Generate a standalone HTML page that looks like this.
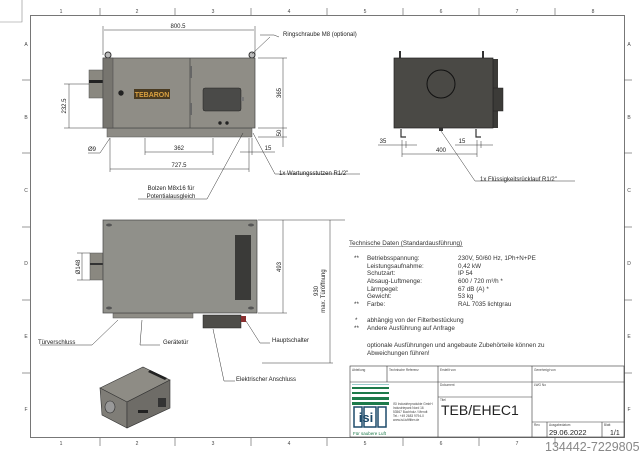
<!DOCTYPE html>
<html><head><meta charset="utf-8"><style>
html,body{margin:0;padding:0;background:#fff;}
svg{display:block;font-family:"Liberation Sans",sans-serif;}
</style></head><body>
<svg width="640" height="453" viewBox="0 0 640 453" xmlns="http://www.w3.org/2000/svg">
<rect width="640" height="453" fill="#fff"/>
<!-- corner mark -->
<path d="M0 22H22V0" fill="none" stroke="#888" stroke-width="0.6"/>
<!-- frame -->
<rect x="30.5" y="15.5" width="594" height="422" fill="none" stroke="#555" stroke-width="0.8"/>
<g stroke="#555" stroke-width="0.6">
<line x1="100" y1="8" x2="100" y2="15"/><line x1="175" y1="8" x2="175" y2="15"/><line x1="251" y1="8" x2="251" y2="15"/><line x1="327" y1="8" x2="327" y2="15"/><line x1="403" y1="8" x2="403" y2="15"/><line x1="479" y1="8" x2="479" y2="15"/><line x1="555" y1="8" x2="555" y2="15"/>
<line x1="100" y1="438" x2="100" y2="446"/><line x1="175" y1="438" x2="175" y2="446"/><line x1="251" y1="438" x2="251" y2="446"/><line x1="327" y1="438" x2="327" y2="446"/><line x1="403" y1="438" x2="403" y2="446"/><line x1="479" y1="438" x2="479" y2="446"/><line x1="555" y1="438" x2="555" y2="446"/>
<line x1="22" y1="80" x2="30" y2="80"/><line x1="22" y1="153" x2="30" y2="153"/><line x1="22" y1="227" x2="30" y2="227"/><line x1="22" y1="300" x2="30" y2="300"/><line x1="22" y1="373" x2="30" y2="373"/>
<line x1="624" y1="80" x2="632" y2="80"/><line x1="624" y1="153" x2="632" y2="153"/><line x1="624" y1="227" x2="632" y2="227"/><line x1="624" y1="300" x2="632" y2="300"/><line x1="624" y1="373" x2="632" y2="373"/>
</g>
<g font-size="5" fill="#444" text-anchor="middle">
<text x="61" y="13">1</text><text x="137" y="13">2</text><text x="213" y="13">3</text><text x="289" y="13">4</text><text x="365" y="13">5</text><text x="441" y="13">6</text><text x="517" y="13">7</text><text x="593" y="13">8</text>
<text x="61" y="445">1</text><text x="137" y="445">2</text><text x="213" y="445">3</text><text x="289" y="445">4</text><text x="365" y="445">5</text><text x="441" y="445">6</text><text x="517" y="445">7</text>
<text x="26" y="46">A</text><text x="26" y="119">B</text><text x="26" y="192">C</text><text x="26" y="265">D</text><text x="26" y="338">E</text><text x="26" y="411">F</text>
<text x="629" y="46">A</text><text x="629" y="119">B</text><text x="629" y="192">C</text><text x="629" y="265">D</text><text x="629" y="338">E</text><text x="629" y="411">F</text>
</g>

<!-- FRONT VIEW -->
<rect x="89" y="70" width="15" height="28" fill="#8a8880" stroke="#555" stroke-width="0.5"/>
<rect x="89" y="80" width="15" height="3" fill="#222"/>
<circle cx="108" cy="55" r="3" fill="#bbb" stroke="#333" stroke-width="1"/>
<circle cx="252" cy="55" r="3" fill="#bbb" stroke="#333" stroke-width="1"/>
<rect x="107" y="128" width="145" height="9" fill="#8d8b85" stroke="#555" stroke-width="0.5"/>
<rect x="103" y="58" width="152" height="70" fill="#8f8d86" stroke="#444" stroke-width="0.7"/>
<rect x="103" y="58" width="10" height="70" fill="#77756f" stroke="#444" stroke-width="0.5"/>
<line x1="190" y1="58" x2="190" y2="128" stroke="#444" stroke-width="0.7"/>
<rect x="190" y="66" width="2" height="12" fill="#666"/><rect x="190" y="103" width="2" height="12" fill="#666"/>
<circle cx="121" cy="93" r="2.7" fill="#222"/>
<rect x="134" y="89" width="36" height="10" fill="#4a3a20"/>
<text x="152" y="97" font-size="7" font-weight="bold" fill="#d9a040" text-anchor="middle">TEBARON</text>
<rect x="203" y="88" width="38" height="23" rx="2" fill="#4a4a48" stroke="#222" stroke-width="0.5"/>
<rect x="241" y="97" width="3" height="4" fill="#777"/>
<circle cx="220" cy="123" r="1.7" fill="#222"/><circle cx="227" cy="123" r="1.7" fill="#222"/>
<!-- dims front -->
<g stroke="#333" stroke-width="0.5" fill="none">
<line x1="103" y1="26" x2="103" y2="55"/><line x1="255" y1="26" x2="255" y2="55"/><line x1="104" y1="30" x2="254" y2="30"/>
<line x1="64" y1="84" x2="89" y2="84"/><line x1="64" y1="128" x2="103" y2="128"/><line x1="69" y1="84" x2="69" y2="128"/>
<line x1="258" y1="58" x2="287" y2="58"/><line x1="258" y1="128" x2="287" y2="128"/><line x1="283" y1="58" x2="283" y2="147"/><line x1="258" y1="137" x2="287" y2="137"/>
<line x1="145" y1="138" x2="145" y2="155"/><line x1="213" y1="138" x2="213" y2="155"/><line x1="145" y1="152" x2="213" y2="152"/>
<line x1="110" y1="138" x2="110" y2="172"/><line x1="249" y1="138" x2="249" y2="172"/><line x1="110" y1="169" x2="249" y2="169"/>
<line x1="252" y1="138" x2="252" y2="155"/><line x1="240" y1="152" x2="275" y2="152"/>
<polyline points="88,153 100,153 110,138"/>
<polyline points="260,35 274,35 279,37"/><line x1="252" y1="54" x2="270" y2="37"/>
<polyline points="253,133 275,174 360,174"/>
<polyline points="243,133 207,199 138,199"/>
</g>
<g font-size="6" fill="#222" text-anchor="middle">
<text x="178" y="28">800.5</text>
<text x="66" y="106" transform="rotate(-90 66 106)">232.5</text>
<text x="281" y="93" transform="rotate(-90 281 93)">365</text>
<text x="281" y="133" transform="rotate(-90 281 133)">50</text>
<text x="179" y="150">362</text>
<text x="179" y="167">727.5</text>
<text x="268" y="150">15</text>
<text x="88" y="151" text-anchor="start">Ø9</text>
<text x="283" y="36" text-anchor="start">Ringschraube M8 (optional)</text>
<text x="279" y="175" text-anchor="start">1x Wartungsstutzen R1/2"</text>
<text x="171" y="190">Bolzen M8x16 für</text>
<text x="171" y="198">Potentialausgleich</text>
</g>

<!-- SIDE VIEW -->
<rect x="399" y="51" width="2" height="8" fill="#333"/><rect x="482" y="51" width="2" height="8" fill="#333"/>
<rect x="493" y="59" width="5" height="69" fill="#3c3b38"/>
<rect x="493" y="88" width="10" height="23" fill="#3c3b38" stroke="#222" stroke-width="0.5"/>
<rect x="394" y="58" width="99" height="70" fill="#4a4945" stroke="#222" stroke-width="0.7"/>
<circle cx="441" cy="84" r="14" fill="none" stroke="#111" stroke-width="1"/>
<path d="M401 129v8h5M476 129v8h5" stroke="#333" stroke-width="1.2" fill="none"/>
<rect x="439" y="128" width="4" height="3" fill="#333"/>
<g stroke="#333" stroke-width="0.5" fill="none">
<line x1="402" y1="140" x2="402" y2="157"/><line x1="477" y1="140" x2="477" y2="157"/><line x1="402" y1="154" x2="477" y2="154"/>
<line x1="406" y1="141" x2="406" y2="148"/><line x1="481" y1="141" x2="481" y2="148"/>
<line x1="378" y1="145" x2="417" y2="145"/><line x1="455" y1="145" x2="493" y2="145"/>
<polyline points="441,131 475,181 575,181"/>
</g>
<g font-size="6" fill="#222" text-anchor="middle">
<text x="383" y="143">35</text><text x="462" y="143">15</text><text x="441" y="152">400</text>
<text x="480" y="181" text-anchor="start">1x Flüssigkeitsrücklauf R1/2"</text>
</g>

<!-- TOP VIEW -->
<rect x="90" y="253" width="13" height="27" fill="#8a8880" stroke="#555" stroke-width="0.5"/>
<rect x="90" y="263" width="13" height="2" fill="#333"/>
<rect x="113" y="313" width="80" height="5" fill="#8f8d86" stroke="#555" stroke-width="0.5"/>
<rect x="203" y="315" width="38" height="13" fill="#4e4d49" stroke="#222" stroke-width="0.5"/>
<rect x="241" y="316" width="5" height="6" fill="#8a3030"/>
<rect x="103" y="220" width="154" height="93" fill="#90908a" stroke="#444" stroke-width="0.7"/>
<rect x="235" y="235" width="16" height="65" fill="#3a3a38"/>
<g fill="#555"><ellipse cx="109" cy="225" rx="3" ry="1.5"/><ellipse cx="251" cy="225" rx="3" ry="1.5"/><ellipse cx="109" cy="308" rx="3" ry="1.5"/><ellipse cx="251" cy="308" rx="3" ry="1.5"/></g>
<g stroke="#333" stroke-width="0.5" fill="none">
<line x1="77" y1="253" x2="90" y2="253"/><line x1="77" y1="280" x2="90" y2="280"/><line x1="82" y1="253" x2="82" y2="280"/>
<line x1="258" y1="220" x2="345" y2="220"/><line x1="258" y1="313" x2="287" y2="313"/><line x1="283" y1="220" x2="283" y2="313"/>
<line x1="262" y1="363" x2="333" y2="363"/><line x1="330" y1="220" x2="330" y2="363"/>
<polyline points="40,345 92,345 118,320"/>
<polyline points="160,345 140,345 142,320"/>
<polyline points="270,343 260,343 246,321"/>
<polyline points="235,381 224,381 213,329"/>
</g>
<g font-size="6" fill="#222" text-anchor="middle">
<text x="80" y="267" transform="rotate(-90 80 267)">Ø148</text>
<text x="281" y="267" transform="rotate(-90 281 267)">493</text>
<text x="318" y="291" transform="rotate(-90 318 291)">930</text>
<text x="325" y="291" transform="rotate(-90 325 291)">max. Türöffnung</text>
<text x="38" y="344" text-anchor="start">Türverschluss</text>
<text x="163" y="344" text-anchor="start">Gerätetür</text>
<text x="272" y="342" text-anchor="start">Hauptschalter</text>
<text x="236" y="381" text-anchor="start">Elektrischer Anschluss</text>
</g>

<!-- ISO -->
<polygon points="100,388 143,367 170,380 127,402" fill="#8e8c85" stroke="#333" stroke-width="0.6"/>
<polygon points="100,388 127,402 127,428 102,415" fill="#7f7d77" stroke="#333" stroke-width="0.6"/>
<polygon points="127,402 170,380 170,408 127,428" fill="#6e6c67" stroke="#333" stroke-width="0.6"/>
<ellipse cx="110" cy="407" rx="5" ry="6" fill="#999" stroke="#333" stroke-width="0.6"/>
<polygon points="150,370 167,378 165,380 148,372" fill="#222"/>
<rect x="158" y="398" width="8" height="9" fill="#333"/>
<rect x="138" y="410" width="10" height="3" fill="#222"/>

<!-- TECH DATA -->
<g font-size="6.3" fill="#333">
<text x="349" y="245">Technische Daten (Standardausführung)</text>
<line x1="349" y1="246.5" x2="463" y2="246.5" stroke="#333" stroke-width="0.4"/>
<text x="354" y="260">**</text><text x="367" y="260">Betriebsspannung:</text><text x="458" y="260">230V, 50/60 Hz, 1Ph+N+PE</text>
<text x="367" y="268">Leistungsaufnahme:</text><text x="458" y="268">0,42 kW</text>
<text x="367" y="275">Schutzart:</text><text x="458" y="275">IP 54</text>
<text x="367" y="283">Absaug-Luftmenge:</text><text x="458" y="283">600 / 720 m³/h *</text>
<text x="367" y="291">Lärmpegel:</text><text x="458" y="291">67 dB (A) *</text>
<text x="367" y="298">Gewicht:</text><text x="458" y="298">53 kg</text>
<text x="354" y="306">**</text><text x="367" y="306">Farbe:</text><text x="458" y="306">RAL 7035 lichtgrau</text>
<text x="355" y="322">*</text><text x="367" y="322">abhängig von der Filterbestückung</text>
<text x="354" y="330">**</text><text x="367" y="330">Andere Ausführung auf Anfrage</text>
<text x="367" y="347">optionale Ausführungen und angebaute Zubehörteile können zu</text>
<text x="367" y="355">Abweichungen führen!</text>
</g>

<!-- TITLE BLOCK -->
<g stroke="#333" stroke-width="0.6" fill="none">
<rect x="350" y="366" width="274" height="71"/>
<line x1="350" y1="382" x2="624" y2="382"/>
<line x1="387" y1="366" x2="387" y2="382"/>
<line x1="438" y1="366" x2="438" y2="437"/>
<line x1="532" y1="366" x2="532" y2="437"/>
<line x1="438" y1="397" x2="532" y2="397"/>
<line x1="532" y1="422" x2="624" y2="422"/>
<line x1="547" y1="422" x2="547" y2="437"/>
<line x1="602" y1="422" x2="602" y2="437"/>
</g>
<g font-size="3.2" fill="#444">
<text x="352" y="371">Abteilung</text><text x="389" y="371">Technische Referenz</text><text x="440" y="371">Erstellt von</text><text x="534" y="371">Genehmigt von</text>
<text x="440" y="386">Dokument</text><text x="534" y="386">LWG No</text><text x="440" y="401">Titel</text>
<text x="534" y="426">Rev.</text><text x="549" y="426">Ausgabedatum</text><text x="604" y="426">Blatt</text>
<text x="393" y="405">ISI Industrieprodukte GmbH</text><text x="393" y="409">Industriepark Nord 16</text><text x="393" y="413">53567 Buchholz / Mendt</text><text x="393" y="417">Tel.: +49 2683 9794-0</text><text x="393" y="421">www.isi-luftfilter.de</text>
</g>
<g fill="#1d7a4a">
<rect x="352" y="384" width="37" height="1" fill="#9cc"/>
<rect x="352" y="387" width="37" height="2"/>
<rect x="352" y="392" width="37" height="2"/>
<rect x="352" y="397" width="37" height="3"/>
<rect x="352" y="402" width="37" height="3"/>
</g>
<g fill="#fff" stroke="#1d4a6a" stroke-width="1.5">
<rect x="354" y="407" width="8" height="20"/><rect x="364" y="407" width="12" height="20"/><rect x="378" y="407" width="8" height="20"/>
</g>
<text x="366" y="422" font-size="13" font-weight="bold" fill="#1d4a6a" text-anchor="middle">isi</text>
<text x="353" y="435" font-size="4.5" fill="#1d7a4a">Für saubere Luft</text>
<text x="441" y="415" font-size="14" fill="#222">TEB/EHEC1</text>
<text x="549" y="435" font-size="7.5" fill="#222">29.06.2022</text>
<text x="610" y="435" font-size="7" fill="#222">1/1</text>
<text x="545" y="451" font-size="12.5" fill="#888">134442-7229805</text>
</svg>
</body></html>
